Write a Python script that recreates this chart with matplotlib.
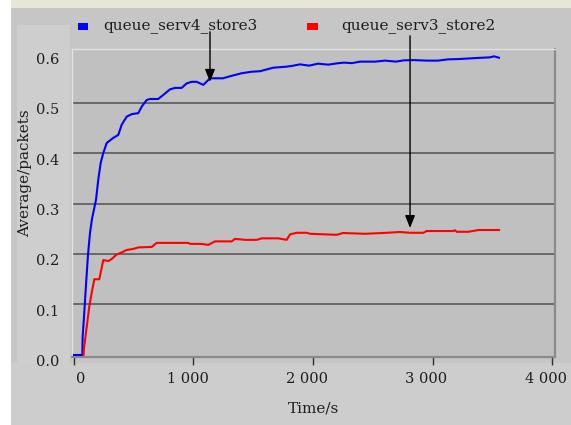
import matplotlib
matplotlib.use("Agg")
import matplotlib.pyplot as plt
import matplotlib.transforms as mtransforms
from matplotlib.patches import Rectangle

# ---------------- data ----------------
blue_label = "queue_serv4_store3"
red_label = "queue_serv3_store2"

blue_t = [0, 70, 72, 84, 98, 117, 134, 151, 184, 203, 223, 245, 274, 329, 371, 399,
          441, 483, 538, 567, 608, 636, 705, 747, 803, 845, 901, 943, 985, 1027,
          1082, 1138, 1247, 1305, 1403, 1487, 1556, 1668, 1780, 1835, 1891, 1967,
          2042, 2126, 2201, 2259, 2326, 2393, 2519, 2603, 2695, 2762, 2845, 2954,
          3046, 3130, 3213, 3356, 3481, 3515, 3556]
blue_v = [0.0, 0.0, 0.035, 0.076, 0.13, 0.198, 0.242, 0.27, 0.307, 0.347, 0.38, 0.40,
          0.42, 0.43, 0.436, 0.456, 0.472, 0.477, 0.479, 0.492, 0.505, 0.507, 0.507,
          0.515, 0.526, 0.529, 0.529, 0.538, 0.541, 0.541, 0.535, 0.548, 0.548, 0.552,
          0.558, 0.561, 0.562, 0.569, 0.571, 0.573, 0.5756, 0.573, 0.577, 0.575,
          0.5776, 0.579, 0.578, 0.581, 0.581, 0.583, 0.581, 0.5836, 0.584, 0.583,
          0.583, 0.5855, 0.586, 0.588, 0.5895, 0.5915, 0.5887]

red_t = [80, 84, 128, 148, 170, 212, 231, 245, 287, 315, 357, 399, 441, 496, 538, 650,
         692, 957, 971, 1068, 1124, 1180, 1320, 1347, 1431, 1529, 1571, 1710, 1780,
         1808, 1864, 1947, 1975, 2198, 2251, 2435, 2617, 2728, 2812, 2923, 2951, 3174,
         3188, 3202, 3300, 3384, 3557]
red_v = [0.0, 0.014, 0.096, 0.123, 0.15, 0.15, 0.172, 0.188, 0.186, 0.19, 0.199, 0.203,
         0.208, 0.21, 0.213, 0.214, 0.222, 0.222, 0.22, 0.22, 0.218, 0.225, 0.225, 0.23,
         0.228, 0.228, 0.231, 0.231, 0.228, 0.239, 0.242, 0.242, 0.240, 0.238, 0.2416,
         0.240, 0.242, 0.2436, 0.242, 0.242, 0.2455, 0.2455, 0.247, 0.244, 0.244,
         0.2475, 0.2475]

x_ticks = [0, 1000, 2000, 3000, 4000]
x_tick_labels = ["0", "1 000", "2 000", "3 000", "4 000"]
y_ticks = [0.0, 0.1, 0.2, 0.3, 0.4, 0.5, 0.6]
y_tick_labels = ["0.0", "0.1", "0.2", "0.3", "0.4", "0.5", "0.6"]
x_label = "Time/s"
y_label = "Average/packets"

# arrows: (x position, tip value, start value)
arrow_x = [1138, 2812]
arrow_tip = [0.541, 0.2515]
arrow_start = [0.640, 0.632]

# ---------------- figure ----------------
W, H = 571, 425
fig = plt.figure(figsize=(W / 100, H / 100), dpi=100)
fig.patch.set_facecolor("white")
FONT = "DejaVu Serif"
FS = 11
TFS = 10.5
TXT = "#1e1e1e"


def rect(x0, y0, x1, y1, color, z=-10):
    # pixel coords, y from top
    fig.patches.append(Rectangle((x0 / W, 1 - y1 / H), (x1 - x0) / W, (y1 - y0) / H,
                                 transform=fig.transFigure, facecolor=color,
                                 edgecolor="none", zorder=z))


rect(11, 0, W, 8, "#e7e7d9")          # top beige band
rect(11, 8, W, H, "#c6c6c6")          # outer frame
rect(17, 25, 70, 363, "#cecece")      # y label panel
rect(11, 363, W, H, "#cdcdcd")        # x label panel

ax_l, ax_r, ax_t, ax_b = 72, 555, 49, 357
ax = fig.add_axes([ax_l / W, 1 - ax_b / H, (ax_r - ax_l) / W, (ax_b - ax_t) / H])
ax.set_facecolor("#c0c0c0")
ax.set_xlim(-16.7, 4025)
ax.set_ylim(-0.004, 0.606)

for s in ["top", "left"]:
    ax.spines[s].set_color("#e2e2e2")
    ax.spines[s].set_linewidth(1.0)
for s in ["right", "bottom"]:
    ax.spines[s].set_color("#8a8a8a")
    ax.spines[s].set_linewidth(1.6)

for g in y_ticks[1:-1]:
    ax.axhline(g, color="#505050", lw=1.1, zorder=1)

ax.plot(blue_t, blue_v, color="#0000ff", lw=1.5, zorder=3)
ax.plot(red_t, red_v, color="#ff0000", lw=1.5, zorder=3)

ax.set_xticks(x_ticks)
ax.set_xticklabels(x_tick_labels, fontfamily=FONT, fontsize=TFS, color=TXT)
ax.tick_params(axis="x", direction="out", length=6, width=1.0, color="#303030", pad=5)
for lab in ax.get_xticklabels():
    dx = 7 if lab.get_text() == "0" else -6
    lab.set_transform(lab.get_transform() +
                      mtransforms.ScaledTranslation(dx / 100, 0, fig.dpi_scale_trans))
ax.set_yticks(y_ticks)
ax.set_yticklabels(y_tick_labels, fontfamily=FONT, fontsize=TFS, color=TXT)
ax.tick_params(axis="y", length=0, pad=9)
off = mtransforms.ScaledTranslation(0, -6 / 100, fig.dpi_scale_trans)
for lab in ax.get_yticklabels():
    lab.set_transform(lab.get_transform() + off)

fig.text(313 / W, 1 - 408 / H, x_label, ha="center", va="center",
         fontfamily=FONT, fontsize=FS, color=TXT)
fig.text(25 / W, 1 - 173 / H, y_label, ha="center", va="center", rotation=90,
         fontfamily=FONT, fontsize=FS, color=TXT)

# legend
rect(78, 23, 88, 30, "#0000ff", z=5)
rect(307, 23, 318, 30, "#ff0000", z=5)
fig.text(103 / W, 1 - 26 / H, blue_label, ha="left", va="center",
         fontfamily=FONT, fontsize=FS, color=TXT)
fig.text(341 / W, 1 - 26 / H, red_label, ha="left", va="center",
         fontfamily=FONT, fontsize=FS, color=TXT)

for xa, yt, ys in zip(arrow_x, arrow_tip, arrow_start):
    ax.annotate("", xy=(xa, yt), xytext=(xa, ys), annotation_clip=False,
                arrowprops=dict(arrowstyle="-|>,head_length=0.75,head_width=0.3",
                                color="black", lw=1.0, shrinkA=0, shrinkB=0,
                                mutation_scale=10), zorder=6)

fig.savefig("out.png", dpi=100)
